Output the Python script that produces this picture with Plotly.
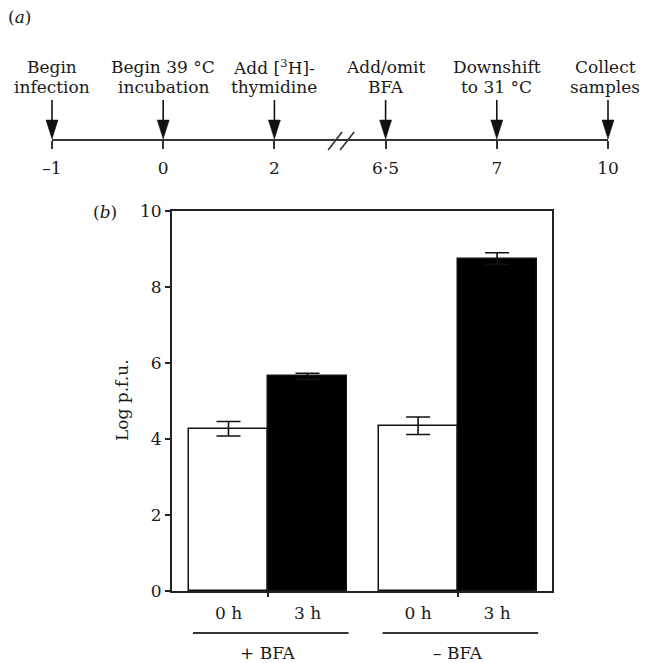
import plotly.graph_objects as go

# ---------------- data ----------------
# panel (a): timeline events
event_times = ["\u20131", "0", "2", "6\u00b75", "7", "10"]
event_line1 = ["Begin", "Begin 39 \u00b0C", "Add [<sup>3</sup>H]-", "Add/omit", "Downshift", "Collect"]
event_line2 = ["infection", "incubation", "thymidine", "BFA", "to 31 \u00b0C", "samples"]
break_after = 2  # axis break between event index 2 and 3

# panel (b): bar chart
groups = ["+ BFA", "\u2013 BFA"]
times = ["0 h", "3 h"]
log_pfu_0h = [4.27, 4.35]
log_pfu_3h = [5.65, 8.75]
err_0h = [0.19, 0.23]
err_3h = [0.08, 0.15]
y_ticks = [0, 2, 4, 6, 8, 10]

# ---------------- layout helpers ----------------
W, H = 647, 663
OFF = 8  # page body margin offset of the plot div
FONT = "DejaVu Serif"
TXT = "#1a1a1a"
LINE = "#222222"
FS = 17

def px_x(p):  # screen x pixel -> paper x
    return (p - OFF) / W

def py(p):  # screen y pixel (from top) -> paper y
    return (H - (p - OFF)) / H

# timeline x-axis: event index units
TL_X0, TL_STEP = 52.0, 111.2
def tl_px(px):  # pixel width -> index units
    return px / TL_STEP

group_gap = 2.4
fig = go.Figure()

# ---------- panel (b) bars ----------
x0h = [g * group_gap + 0 for g in range(len(groups))]
x3h = [g * group_gap + 1 for g in range(len(groups))]

fig.add_trace(go.Bar(
    x=x0h, y=log_pfu_0h, width=1,
    marker=dict(color="white", line=dict(color="#111111", width=1.5)),
    error_y=dict(type="data", array=err_0h, color="#111111", thickness=1.6, width=12),
    xaxis="x", yaxis="y", showlegend=False,
))
fig.add_trace(go.Bar(
    x=x3h, y=log_pfu_3h, width=1,
    marker=dict(color="black", line=dict(color="#111111", width=1.5)),
    error_y=dict(type="data", array=err_3h, color="#111111", thickness=1.6, width=12),
    xaxis="x", yaxis="y", showlegend=False,
))

centers = sorted(x0h + x3h)
tick_text = [times[i % 2] for i in range(len(centers))]
boundaries = [g * group_gap + 0.5 for g in range(len(groups))]

# ---------- panel (a) timeline ----------
n_ev = len(event_times)
ev_x = list(range(n_ev))
BASE = 140  # timeline baseline (screen-pixel y2 units)
fig.add_trace(go.Scatter(
    x=[ev_x[0], ev_x[-1]], y=[BASE, BASE], mode="lines",
    line=dict(color="#333333", width=2), xaxis="x2", yaxis="y2",
    showlegend=False, hoverinfo="skip",
))

shapes = []
annotations = []
for i in ev_x:
    # arrow shaft
    shapes.append(dict(type="line", xref="x2", yref="y2", x0=i, x1=i, y0=BASE - 40, y1=BASE - 19,
                       line=dict(color="#111111", width=1.6)))
    # arrow head
    hw = tl_px(6)
    shapes.append(dict(type="path", xref="x2", yref="y2",
                       path=f"M {i - hw} {BASE - 20} L {i + hw} {BASE - 20} L {i} {BASE - 1} Z",
                       fillcolor="#111111", line=dict(color="#111111", width=0.5)))
    shift = -3 if i == ev_x[-1] else 0
    annotations.append(dict(x=i, y=67, xref="x2", yref="y2", text=event_line1[i], showarrow=False,
                            xshift=shift, font=dict(family=FONT, size=FS, color=TXT), yanchor="middle"))
    annotations.append(dict(x=i, y=87, xref="x2", yref="y2", text=event_line2[i], showarrow=False,
                            xshift=shift, font=dict(family=FONT, size=FS, color=TXT), yanchor="middle"))

# axis break slashes
xb = break_after + 0.6
for off in (-6, 6):
    shapes.append(dict(type="line", xref="x2", yref="y2",
                       x0=xb + tl_px(off - 7), x1=xb + tl_px(off + 7), y0=BASE + 10, y1=BASE - 8,
                       line=dict(color="#333333", width=1.6)))

# group underline + labels for panel (b)
for g, name in enumerate(groups):
    shapes.append(dict(type="line", xref="x", yref="paper",
                       x0=g * group_gap - 0.45, x1=g * group_gap + 1.52, y0=py(633), y1=py(633),
                       line=dict(color="#333333", width=2)))
    annotations.append(dict(x=g * group_gap + 0.5, y=py(653), xref="x", yref="paper", text=name,
                            showarrow=False, font=dict(family=FONT, size=17, color=TXT), yanchor="middle"))

annotations += [
    dict(x=px_x(19), y=py(17), xref="paper", yref="paper", text="(<i>a</i>)", showarrow=False,
         font=dict(family=FONT, size=17, color=TXT), xanchor="center", yanchor="middle"),
    dict(x=px_x(105), y=py(212), xref="paper", yref="paper", text="(<i>b</i>)", showarrow=False,
         font=dict(family=FONT, size=17, color=TXT), xanchor="center", yanchor="middle"),
    dict(x=px_x(122), y=py(400), xref="paper", yref="paper", text="Log p.f.u.", showarrow=False,
         textangle=-90, font=dict(family=FONT, size=17, color=TXT), xanchor="center", yanchor="middle"),
]

fig.update_layout(
    width=W, height=H, margin=dict(l=0, r=0, t=0, b=0, autoexpand=False),
    paper_bgcolor="white", plot_bgcolor="white",
    bargap=0, barmode="overlay",
    font=dict(family=FONT, size=17, color=TXT),
    xaxis=dict(domain=[px_x(172), px_x(552)], range=[-0.715, 4.095], anchor="y",
               tickvals=centers, ticktext=tick_text, ticks="", ticklabelstandoff=6,
               showline=True, linecolor=LINE, linewidth=1.6, mirror=True,
               showgrid=False, zeroline=False, automargin=False,
               minor=dict(tickvals=boundaries, ticks="outside", ticklen=4, tickwidth=1.5, tickcolor=LINE),
               tickfont=dict(family=FONT, size=17, color=TXT)),
    yaxis=dict(domain=[py(591), py(211)], range=[0, 10], anchor="x",
               tickvals=y_ticks, ticks="outside", ticklen=5, tickwidth=1.6, tickcolor=LINE,
               showline=True, linecolor=LINE, linewidth=1.8, mirror=True,
               showgrid=False, zeroline=False, automargin=False,
               tickfont=dict(family=FONT, size=17, color=TXT)),
    xaxis2=dict(domain=[0, 1], range=[-(TL_X0 - OFF) / TL_STEP, (W - (TL_X0 - OFF)) / TL_STEP],
                anchor="free", position=py(BASE), tickvals=ev_x, ticktext=event_times,
                ticks="outside", ticklen=8, tickwidth=1.5, tickcolor="#333333",
                showline=False, showgrid=False, zeroline=False, automargin=False,
                ticklabelstandoff=5, tickfont=dict(family=FONT, size=FS, color=TXT)),
    yaxis2=dict(domain=[py(190), 1], range=[190, OFF], anchor="x2", visible=False),
    shapes=shapes, annotations=annotations,
)

fig.write_html("out.html")
